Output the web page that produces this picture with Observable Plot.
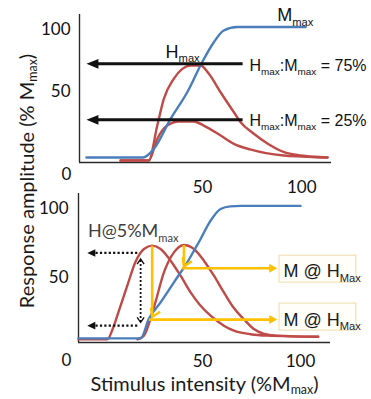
<!DOCTYPE html>
<html>
<head>
<meta charset="utf-8">
<script src="https://cdn.jsdelivr.net/npm/d3@7"></script>
<script src="https://cdn.jsdelivr.net/npm/@observablehq/plot@0.6"></script>
<style>
  html, body { margin: 0; padding: 0; background: #fff; }
  #fig { position: relative; width: 371px; height: 399px; overflow: hidden; }
  #fig svg { display: block; overflow: visible; background: transparent; }
  #ylab { position: absolute; left: -124px; top: 169px; width: 300px; height: 24px; line-height: 24px;
          text-align: center; transform: rotate(-90deg); font-family: Lato, sans-serif; font-size: 20px;
          color: #1a1a1a; white-space: nowrap; }
  #ylab sub { font-size: 0.62em; vertical-align: -0.28em; line-height: 0; }
</style>
</head>
<body>
<div id="fig"></div>
<script>
// ---------------- data ----------------
const topTicks = [50, 100];
const botTicks = [50, 100];
const cornerLabel = ["0"];

// top panel: M-wave (blue) and two H-reflex curves (red)
const mTopX = [-8.5, 20, 25.5, 33.9, 42.3, 49.8, 55.7, 60.7, 67.5, 102];
const mTopY = [-3, -3, 4, 28.1, 49.5, 73.6, 89.7, 99.1, 102, 102];
const h75TopX = [8.7, 22.9, 27.2, 30.5, 35.5, 39.8, 44, 49, 53.2, 59.1, 65.8, 69.2, 75.7, 82.7, 90.8, 99.4, 113];
const h75TopY = [-5.4, -5.4, 22.7, 44.2, 60.3, 68.3, 71, 71, 64.3, 49.5, 33.4, 25.4, 16.3, 8.3, 1.5, -1.4, -3];
const h25TopX = [8.7, 22.9, 27.2, 32.2, 38.1, 45.6, 50.6, 59.1, 65.8, 74, 82, 91, 100, 113];
const h25TopY = [-5.4, -5.4, 12, 22.7, 26, 26, 22.7, 14.7, 8, 3.5, 0.5, -1.4, -2.2, -3];
const topArrowX1 = [70.2, 70.2];
const topArrowX2 = [-8.5, -8.5];
const topArrowY = [72.3, 27.3];
const topLabelText = ["M_{max}", "H_{max}"];
const topLabelX = [87.7, 31.4];
const topLabelY = [106.6, 77.4];
const ratioText = ["H_{max}:M_{max} = 75%", "H_{max}:M_{max} = 25%"];
const ratioX = [73.7, 73.7];
const ratioY = [66.9, 22.7];

// bottom panel
const mBotX = [-13.3, 18.4, 22.6, 28.6, 35.4, 42.2, 49, 54.1, 59.2, 64.3, 69.4, 100];
const mBotY = [6, 6, 20.1, 32.1, 46.6, 61.1, 78, 91.3, 99.8, 101.7, 102, 102];
const h1BotX = [-13.3, 1.4, 4.2, 7.3, 11.6, 15.8, 20.1, 24.3, 28.6, 33.7, 38.8, 43.9, 49, 54.1, 60.9, 66, 74.5, 83, 109];
const h1BotY = [5.3, 5.3, 13, 26, 44.2, 61.5, 70.8, 73.2, 70.8, 62.3, 51.4, 39.3, 29.7, 22.5, 15.2, 11.6, 9, 8, 7.2];
const h2BotX = [16.8, 20.1, 25.2, 30.3, 35.4, 40.5, 45.6, 50.7, 55.8, 60.9, 66, 71, 76, 81, 88, 109];
const h2BotY = [5.3, 8, 28.5, 53.8, 68.3, 73.7, 70.8, 62.3, 51.4, 39.3, 28, 20, 13, 9.5, 8, 7.2];
const dotHX1 = [16.7, 16.7];
const dotHX2 = [-8.8, -8.8];
const dotHY = [67.9, 15.2];
const dotVX = [18.4];
const dotVY1 = [63.5];
const dotVY2 = [17.6];
const yelVX = [24.3, 40.5];
const yelVY1 = [73.2, 73.7];
const yelVY2 = [21.5, 58.2];
const yelHX1 = [22.6, 39.6];
const yelHX2 = [88.1, 88.1];
const yelHY = [19.6, 56.8];
const boxX1 = [89.3, 89.3];
const boxX2 = [128.5, 128.5];
const boxY1 = [46.4, 11.6];
const boxY2 = [65.9, 31.2];
const boxText = ["M @ H_{Max}", "M @ H_{Max}"];
const boxTextX = [91.3, 91.3];
const boxTextY = [50.2, 15.2];
const hLabelText = ["H@5%M_{max}"];
const hLabelX = [-8.5];
const hLabelY = [79.2];
const xTitle = ["Stimulus intensity (%M_{max})"];

// ---------------- styles ----------------
const RED = "#BE4B48", BLUE = "#4A7EBB", YEL = "#FFC000", INK = "#111";
const CAL = "Lato, 'Open Sans', sans-serif";
const ARI = "'Liberation Sans', Arial, sans-serif";

const pts = (xs, ys) => xs.map((x, i) => ({x, y: ys[i]}));
const segs = (x1, x2, y1, y2) => x1.map((_, i) => ({x1: x1[i], x2: x2[i], y1: y1[i], y2: y2[i]}));
const tri = (len, half) => ({draw(c) { c.moveTo(0, 0); c.lineTo(-half, len); c.lineTo(half, len); c.closePath(); }});
const chev = (len, half) => ({draw(c) { c.moveTo(-half, len); c.lineTo(0, 0); c.lineTo(half, len); }});

function subify(root, selector, ratio = 0.62, shift = 0.26) {
  root.querySelectorAll(selector).forEach(node => {
    const t = node.textContent;
    if (!t.includes("_{")) return;
    const fs = parseFloat(getComputedStyle(node).fontSize);
    node.textContent = "";
    let down = false;
    for (const part of t.split(/(_\{[^}]*\})/)) {
      if (!part) continue;
      const ts = document.createElementNS("http://www.w3.org/2000/svg", "tspan");
      if (part.startsWith("_{")) {
        ts.textContent = part.slice(2, -1);
        ts.setAttribute("font-size", (fs * ratio).toFixed(2));
        if (!down) ts.setAttribute("dy", (fs * shift).toFixed(2));
        down = true;
      } else {
        ts.textContent = part;
        if (down) ts.setAttribute("dy", (-fs * shift).toFixed(2));
        down = false;
      }
      node.appendChild(ts);
    }
  });
}

// ---------------- top panel ----------------
const topArrows = segs(topArrowX1, topArrowX2, topArrowY, topArrowY);
const topLabels = topLabelText.map((t, i) => ({t, x: topLabelX[i], y: topLabelY[i]}));
const ratioLabels = ratioText.map((t, i) => ({t, x: ratioX[i], y: ratioY[i]}));

const topChart = Plot.plot({
  width: 371, height: 190,
  marginLeft: 79, marginRight: 40, marginTop: 14, marginBottom: 28,
  x: {domain: [-12, 115]},
  y: {domain: [-7, 112]},
  style: {background: "transparent", overflow: "visible", fontFamily: CAL, color: "#111"},
  marks: [
    Plot.ruleX([-12], {stroke: "#2a2a2a", strokeWidth: 1.4}),
    Plot.ruleY([-7], {stroke: "#2a2a2a", strokeWidth: 1.4}),
    Plot.axisY({ticks: topTicks, tickSize: 0, tickPadding: 9, fontSize: 17, label: null}),
    Plot.axisX({ticks: topTicks, tickSize: 0, tickPadding: 18, fontSize: 17, label: null}),
    Plot.text(cornerLabel, {frameAnchor: "bottom-left", dx: -13, dy: 12, textAnchor: "middle", lineAnchor: "middle", fontSize: 17}),
    Plot.line(pts(h75TopX, h75TopY), {x: "x", y: "y", stroke: RED, strokeWidth: 2.4, curve: "monotone-x"}),
    Plot.line(pts(h25TopX, h25TopY), {x: "x", y: "y", stroke: RED, strokeWidth: 2.4, curve: "monotone-x"}),
    Plot.line(pts(mTopX, mTopY), {x: "x", y: "y", stroke: BLUE, strokeWidth: 2.4, curve: "monotone-x"}),
    Plot.arrow(topArrows, {x1: "x1", x2: "x2", y1: "y1", y2: "y2", stroke: INK, strokeWidth: 3, headLength: 0, insetEnd: 8, strokeLinecap: "butt"}),
    Plot.dot(topArrows, {x: "x2", y: "y2", symbol: tri(12, 4.8), rotate: -90, fill: INK, stroke: "none"}),
    Plot.text(topLabels, {x: "x", y: "y", text: "t", textAnchor: "start", lineAnchor: "bottom", fontFamily: ARI, fontSize: 18, fill: "#111", className: "subtext"}),
    Plot.text(ratioLabels, {x: "x", y: "y", text: "t", textAnchor: "start", lineAnchor: "bottom", fontFamily: ARI, fontSize: 16, fill: "#111", className: "subtext"})
  ]
});

// ---------------- bottom panel ----------------
const dotH = segs(dotHX1, dotHX2, dotHY, dotHY);
const dotV = segs(dotVX, dotVX, dotVY1, dotVY2);
const yelV = segs(yelVX, yelVX, yelVY1, yelVY2);
const yelH = segs(yelHX1, yelHX2, yelHY, yelHY);
const boxes = segs(boxX1, boxX2, boxY1, boxY2);
const boxLabels = boxText.map((t, i) => ({t, x: boxTextX[i], y: boxTextY[i]}));
const hLabels = hLabelText.map((t, i) => ({t, x: hLabelX[i], y: hLabelY[i]}));

const bottomChart = Plot.plot({
  width: 371, height: 209,
  marginLeft: 78, marginRight: 41, marginTop: 3, marginBottom: 57,
  x: {domain: [-13.3, 115.3]},
  y: {domain: [3, 111]},
  style: {background: "transparent", overflow: "visible", fontFamily: CAL, color: "#111"},
  marks: [
    Plot.ruleX([-13.3], {stroke: "#2a2a2a", strokeWidth: 1.4}),
    Plot.ruleY([3], {stroke: "#2a2a2a", strokeWidth: 1.4}),
    Plot.axisY({ticks: botTicks, tickSize: 0, tickPadding: 10, fontSize: 17, label: null}),
    Plot.axisX({ticks: botTicks, tickSize: 0, tickPadding: 12, fontSize: 17, label: null}),
    Plot.text(cornerLabel, {frameAnchor: "bottom-left", dx: -12, dy: 18, textAnchor: "middle", lineAnchor: "middle", fontSize: 17}),
    Plot.text(xTitle, {frameAnchor: "bottom", dy: 48, textAnchor: "middle", lineAnchor: "bottom", fontSize: 20, fill: "#1a1a1a", className: "xtitle"}),
    Plot.line(pts(h1BotX, h1BotY), {x: "x", y: "y", stroke: RED, strokeWidth: 2.4, curve: "monotone-x"}),
    Plot.line(pts(h2BotX, h2BotY), {x: "x", y: "y", stroke: RED, strokeWidth: 2.4, curve: "monotone-x"}),
    Plot.line(pts(mBotX, mBotY), {x: "x", y: "y", stroke: BLUE, strokeWidth: 2.4, curve: "monotone-x"}),
    // black dotted arrows
    Plot.arrow(dotH, {x1: "x1", x2: "x2", y1: "y1", y2: "y2", stroke: INK, strokeWidth: 2.2, strokeDasharray: "2.2 2.2", headLength: 0, insetEnd: 5, strokeLinecap: "butt"}),
    Plot.dot(dotH, {x: "x2", y: "y2", symbol: tri(8, 3.8), rotate: -90, fill: INK, stroke: "none"}),
    Plot.arrow(dotV, {x1: "x1", x2: "x2", y1: "y1", y2: "y2", stroke: INK, strokeWidth: 1.8, strokeDasharray: "2 2", headLength: 0, insetStart: 1, insetEnd: 1, strokeLinecap: "butt"}),
    Plot.dot(dotV, {x: "x1", y: "y1", symbol: chev(5, 3.5), rotate: 0, fill: "none", stroke: INK, strokeWidth: 1.4}),
    Plot.dot(dotV, {x: "x2", y: "y2", symbol: chev(5, 3.5), rotate: 180, fill: "none", stroke: INK, strokeWidth: 1.4}),
    // yellow arrows
    Plot.arrow(yelV, {x1: "x1", x2: "x2", y1: "y1", y2: "y2", stroke: YEL, strokeWidth: 2.6, headLength: 0, insetEnd: 1, strokeLinecap: "butt"}),
    Plot.dot(yelV, {x: "x2", y: "y2", symbol: chev(8, 5), rotate: 205, fill: "none", stroke: YEL, strokeWidth: 2.4}),
    Plot.arrow(yelH, {x1: "x1", x2: "x2", y1: "y1", y2: "y2", stroke: YEL, strokeWidth: 2.6, headLength: 0, insetEnd: 6, strokeLinecap: "butt"}),
    Plot.dot(yelH, {x: "x2", y: "y2", symbol: tri(8, 4.5), rotate: 90, fill: YEL, stroke: "none"}),
    Plot.rect(boxes, {x1: "x1", x2: "x2", y1: "y1", y2: "y2", fill: "#FFFEF8", stroke: "#F0E2B6", strokeWidth: 1.2}),
    Plot.text(boxLabels, {x: "x", y: "y", text: "t", textAnchor: "start", lineAnchor: "bottom", fontFamily: ARI, fontSize: 18, fill: "#1a1a1a", className: "subtext"}),
    Plot.text(hLabels, {x: "x", y: "y", text: "t", textAnchor: "start", lineAnchor: "bottom", fontSize: 18, fill: "#404040", className: "subtext"})
  ]
});

const fig = document.getElementById("fig");
fig.appendChild(topChart);
fig.appendChild(bottomChart);
const ylab = document.createElement("div");
ylab.id = "ylab";
ylab.innerHTML = "Response amplitude (% M<sub>max</sub>)";
fig.appendChild(ylab);
subify(topChart, ".subtext text");
subify(bottomChart, ".subtext text");
subify(bottomChart, ".xtitle text", 0.62, 0.16);
</script>
</body>
</html>
